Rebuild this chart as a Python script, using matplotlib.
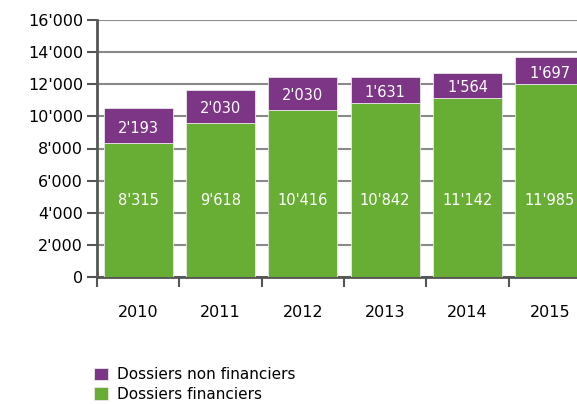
import numpy as np
import matplotlib.pyplot as plt
from matplotlib.ticker import FuncFormatter, FixedLocator

plt.rcParams['font.family'] = ['DejaVu Sans']

years = ['2010', '2011', '2012', '2013', '2014', '2015']
financiers = [8315, 9618, 10416, 10842, 11142, 11985]
non_financiers = [2193, 2030, 2030, 1631, 1564, 1697]

green = '#68ae34'
purple = '#7d3585'

def fmt(v, pos=None):
    return '{:,.0f}'.format(v).replace(',', "'")

fig = plt.figure(figsize=(5.77, 4.04), dpi=100)
ax = fig.add_axes([97/577, 127/404, 494/577, 257/404])

x = np.arange(len(years)) + 0.5
b1 = ax.bar(x, financiers, width=0.84, color=green, edgecolor='#e8e8e8', linewidth=0.6, zorder=3)
b2 = ax.bar(x, non_financiers, width=0.84, bottom=financiers, color=purple, edgecolor='#e8e8e8', linewidth=0.6, zorder=3)

# green labels all sit at the same height in the original
for i in range(len(years)):
    ax.text(x[i], 4750, fmt(financiers[i]), color='white', ha='center', va='center', fontsize=10.5, zorder=4)
    ax.text(x[i], financiers[i] + non_financiers[i]/2 - 150, fmt(non_financiers[i]), color='white', ha='center', va='center', fontsize=10.5, zorder=4)

ax.set_xlim(0, 6)
ax.set_ylim(0, 16000)
ax.set_yticks(np.arange(0, 16001, 2000))
ax.yaxis.set_major_formatter(FuncFormatter(fmt))
ax.yaxis.grid(True, color='#8a8a8a', linewidth=1.5, zorder=0)

ax.xaxis.set_major_locator(FixedLocator(np.arange(0, 7)))
ax.xaxis.set_minor_locator(FixedLocator(x))
ax.set_xticklabels([], minor=False)
ax.set_xticklabels(years, minor=True)
ax.tick_params(axis='x', which='major', length=7, width=1.5, color='#555555')
ax.tick_params(axis='x', which='minor', length=0, pad=20, labelsize=11.5)
ax.tick_params(axis='y', length=7, width=1.5, color='#555555', labelsize=11.5, pad=3)

for s in ['top', 'right']:
    ax.spines[s].set_visible(False)
for s in ['left', 'bottom']:
    ax.spines[s].set_color('#555555')
    ax.spines[s].set_linewidth(2)

fig.legend([b2, b1], ['Dossiers non financiers', 'Dossiers financiers'],
           loc='upper left', bbox_to_anchor=(88/577, 1 - 361/404), frameon=False,
           fontsize=11, handlelength=0.9, handleheight=0.9, handletextpad=0.6,
           labelspacing=0.3, borderaxespad=0)

fig.savefig('out.png', dpi=100)
